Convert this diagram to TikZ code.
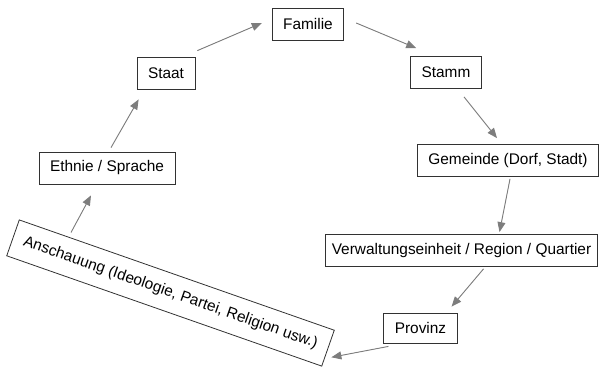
\documentclass[tikz,border=0pt]{standalone}
\usepackage{fontspec}
\setmainfont{Liberation Sans}
\usepackage{xcolor}
\usepackage{tikz}
\usetikzlibrary{arrows.meta}
\definecolor{edgegray}{RGB}{125,125,125}
\definecolor{boxline}{RGB}{50,50,50}

\begin{document}
\begin{tikzpicture}[x=1pt,y=-1pt]
      \tikzstyle{box}=[draw=boxline,line width=0.8pt,minimum height=32pt,inner xsep=11pt,font=\fontsize{15.4}{18}\selectfont]
      \tikzstyle{edge}=[-{Triangle[length=10pt,width=8pt]},draw=edgegray,fill=edgegray,line width=0.9pt]
      \useasboundingbox (0,0) rectangle (601,368);
      \node[box] (fam) at (308,24) {Familie};
      \node[box] (staat) at (166,73) {Staat};
      \node[box] (stamm) at (446,72.5) {Stamm};
      \node[box] (eth) at (107,168) {Ethnie / Sprache};
      \node[box] (gem) at (508,160.5) {Gemeinde (Dorf, Stadt)};
      \node[box,inner xsep=6.5pt] (verw) at (461.5,250.5) {Verwaltungseinheit / Region / Quartier};
      \node[box,minimum height=30pt] (prov) at (420.5,328) {Provinz};
      \node[box,minimum height=38pt,inner xsep=11.5pt,rotate=-19.3] (ansch) at (170.5,293) {Anschauung (Ideologie, Partei, Religion usw.)};
      \draw[edge] ([xshift=2pt,yshift=6pt]staat.north east) -- ([xshift=-10pt,yshift=1pt]fam.west);
      \draw[edge] ([xshift=12pt,yshift=1pt]fam.east) -- ([xshift=6pt,yshift=8pt]stamm.north west);
      \draw[edge] ([xshift=18pt,yshift=-8pt]stamm.south) -- ([xshift=-11pt,yshift=6pt]gem.north);
      \draw[edge] ([xshift=2pt,yshift=-2pt]gem.south) -- ([xshift=38pt,yshift=2pt]verw.north);
      \draw[edge] ([xshift=22pt,yshift=-2pt]verw.south) -- ([xshift=-6pt,yshift=6pt]prov.north east);
      \draw[edge] ([xshift=5pt,yshift=-3pt]prov.south west) -- ([xshift=3pt,yshift=-9pt]ansch.east);
      \draw[edge] ([xshift=52pt,yshift=-13pt]ansch.north west) -- ([xshift=-16pt,yshift=-11pt]eth.south);
      \draw[edge] ([xshift=4pt,yshift=4pt]eth.north) -- ([xshift=2pt,yshift=-10pt]staat.south west);
    \end{tikzpicture}
\end{document}
